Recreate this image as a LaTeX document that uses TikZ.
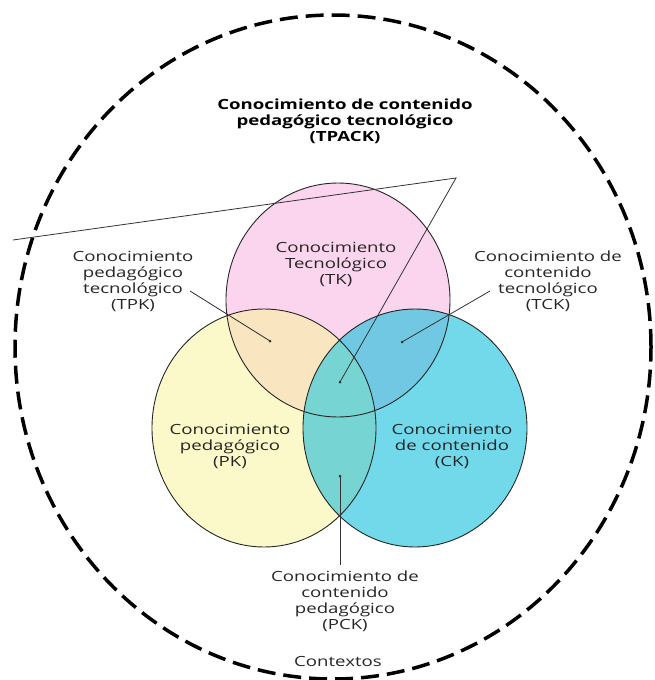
\documentclass[tikz,border=0pt]{standalone}
\usepackage{fontspec}
\setmainfont[FakeStretch=1.33]{Open Sans}
\definecolor{tkpink}{HTML}{FBD4EE}
\definecolor{pkyellow}{HTML}{FBF9C9}
\definecolor{ckcyan}{HTML}{72D9EB}
\definecolor{tpkpeach}{HTML}{F9E6C1}
\definecolor{tckblue}{HTML}{70C8E3}
\definecolor{pckteal}{HTML}{76D5D2}
\definecolor{labelgray}{HTML}{262626}
\definecolor{linegray}{HTML}{333333}
\begin{document}
\begin{tikzpicture}[x=1pt,y=-1pt,
  lbl/.style={align=center,font=\fontsize{14}{16}\selectfont,text=labelgray,inner sep=0pt},
  ptr/.style={draw=linegray,line width=0.8pt},
  dot/.style={circle,fill=linegray,inner sep=0pt,minimum size=3pt},
  rim/.style={draw=black!85,line width=0.9pt}]
  \useasboundingbox (0,0) rectangle (655,680);
  \def\tkpath{(338,300) ellipse [x radius=112pt,y radius=117pt]}
  \def\pkpath{(264,428) ellipse [x radius=112pt,y radius=119pt]}
  \def\ckpath{(415,428) ellipse [x radius=112pt,y radius=119pt]}
  % outer context
  \draw[line width=3.5pt,dash pattern=on 18pt off 8pt] (333,347) ellipse [x radius=318pt,y radius=332pt];
  % fills
  \fill[tkpink] \tkpath;
  \fill[pkyellow] \pkpath;
  \fill[ckcyan] \ckpath;
  \begin{scope}
    \clip \tkpath;
    \fill[tpkpeach] \pkpath;
    \fill[tckblue] \ckpath;
  \end{scope}
  \begin{scope}
    \clip \pkpath;
    \fill[pckteal] \ckpath;
  \end{scope}
  \draw[rim] \tkpath;
  \draw[rim] \pkpath;
  \draw[rim] \ckpath;
  % texts
  \node[lbl,font=\fontsize{14}{16}\selectfont\bfseries,text=black] (tpack) at (345,121)
    {Conocimiento de contenido\\pedagógico tecnológico\\(TPACK)};
  \node[lbl] (tk) at (336,264) {Conocimiento\\Tecnológico\\(TK)};
  \node[lbl] (pk) at (230,446) {Conocimiento\\pedagógico\\(PK)};
  \node[lbl] (ck) at (452,446) {Conocimiento\\de contenido\\(CK)};
  \node[lbl] (tpk) at (133,281) {Conocimiento\\pedagógico\\tecnológico\\(TPK)};
  \node[lbl] (tck) at (548,281) {Conocimiento de\\contenido\\tecnológico\\(TCK)};
  \node[lbl] (pck) at (345,601) {Conocimiento de\\contenido\\pedagógico\\(PCK)};
  \node[lbl] (ctx) at (338,661) {Contextos};
  % pointers
  \node[dot] (tpkdot) at (270,341) {};
  \node[dot] (tckdot) at (402,342) {};
  \node[dot] (tpackdot) at (340,382) {};
  \node[dot] (pckdot) at (340,476) {};
  \coordinate (tpkfrom) at (190,291);
  \coordinate (tckfrom) at (490,291);
  \coordinate (tpackfrom) at (13,240);
  \coordinate (tpackbend) at (456,178);
  \coordinate (pckfrom) at (340,565);
  \draw[ptr] (tpkfrom) -- (tpkdot.center);
  \draw[ptr] (tckfrom) -- (tckdot.center);
  \draw[ptr] (tpackfrom) -- (tpackbend) -- (tpackdot.center);
  \draw[ptr] (pckfrom) -- (pckdot.center);
\end{tikzpicture}
\end{document}
